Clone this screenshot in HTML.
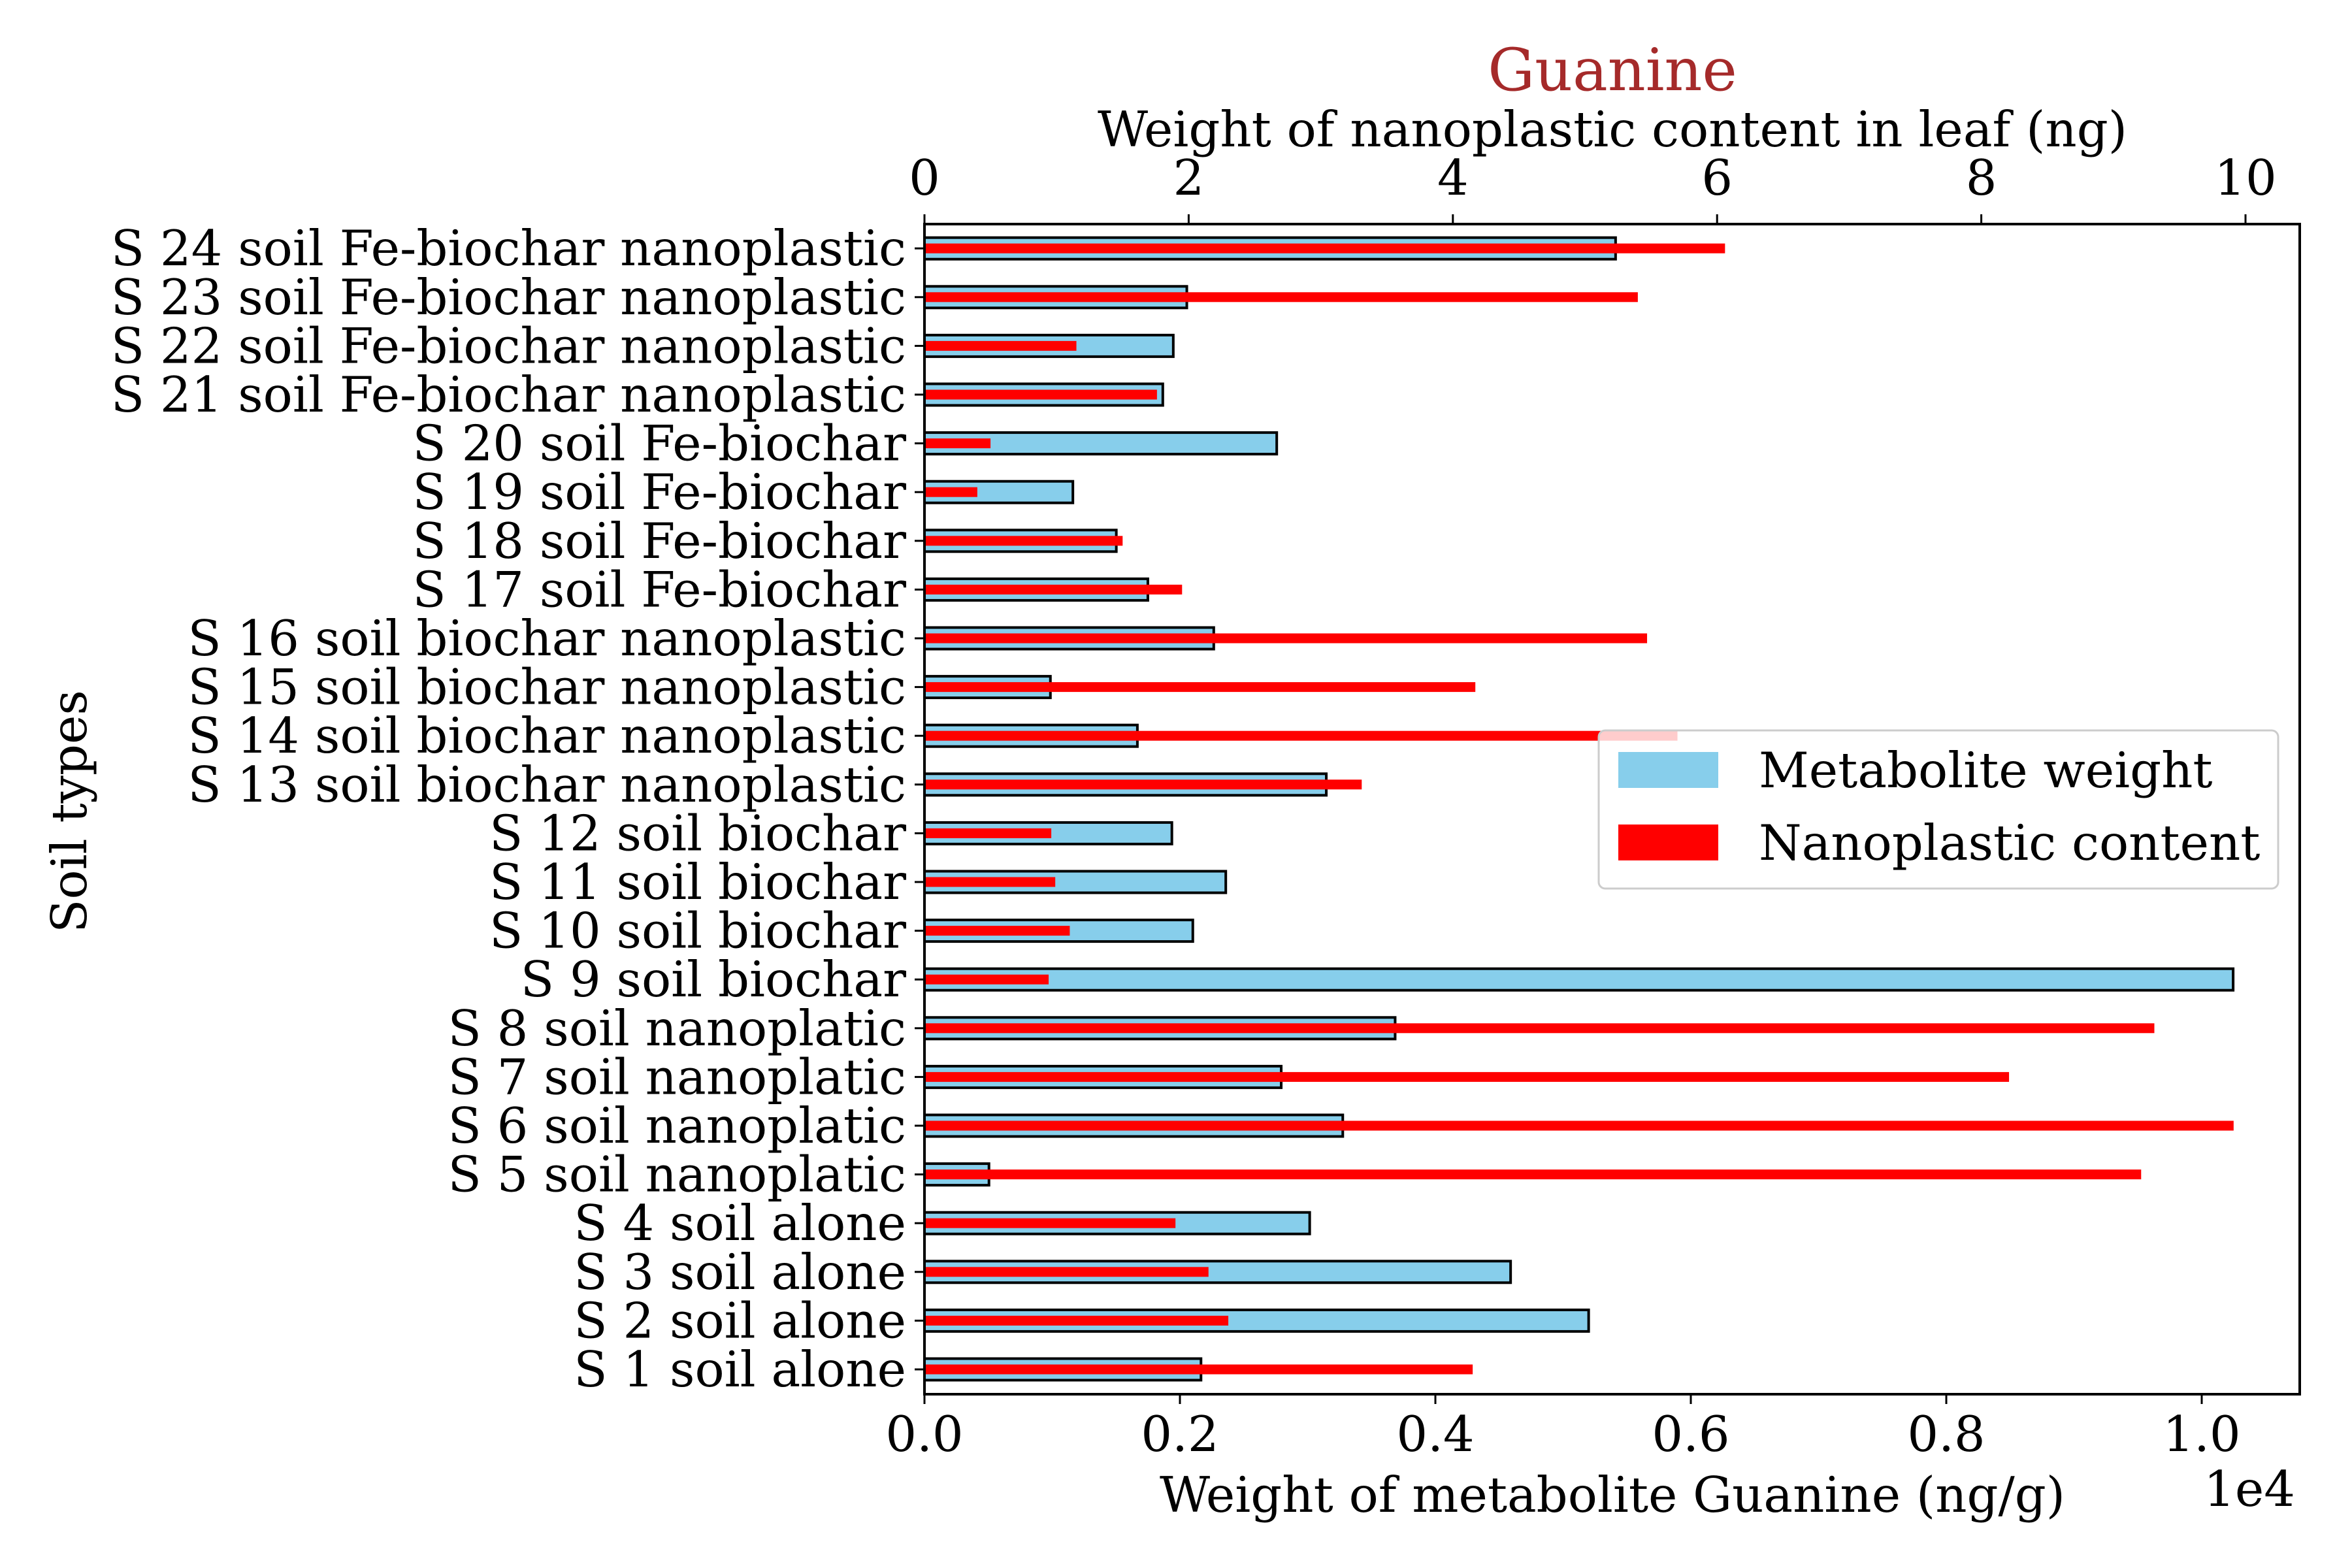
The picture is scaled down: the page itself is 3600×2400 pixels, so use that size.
<!DOCTYPE html>
<html><head><meta charset="utf-8"><style>
html,body{margin:0;padding:0;background:#fff}
svg{display:block;font-family:"DejaVu Serif","Liberation Serif",serif}
</style></head><body>
<svg id="chart" width="3600" height="2400" viewBox="0 0 3600 2400" xmlns="http://www.w3.org/2000/svg">
<rect width="3600" height="2400" fill="#fff"/>
<g id="bars"></g>
<g id="axes"></g>
</svg>
<script>
const categories = ["S 1 soil alone","S 2 soil alone","S 3 soil alone","S 4 soil alone","S 5 soil nanoplatic","S 6 soil nanoplatic","S 7 soil nanoplatic","S 8 soil nanoplatic","S 9 soil biochar","S 10 soil biochar","S 11 soil biochar","S 12 soil biochar","S 13 soil biochar nanoplastic","S 14 soil biochar nanoplastic","S 15 soil biochar nanoplastic","S 16 soil biochar nanoplastic","S 17 soil Fe-biochar","S 18 soil Fe-biochar","S 19 soil Fe-biochar","S 20 soil Fe-biochar","S 21 soil Fe-biochar nanoplastic","S 22 soil Fe-biochar nanoplastic","S 23 soil Fe-biochar nanoplastic","S 24 soil Fe-biochar nanoplastic"];
const metaboliteWeight = [2165,5200,4589,3016,505,3275,2793,3685,10246,2101,2359,1937,3146,1667,986,2265,1749,1502,1162,2758,1866,1948,2054,5411];
const nanoplasticContent = [4.15,2.30,2.15,1.90,9.21,9.91,8.21,9.31,0.94,1.10,0.99,0.96,3.31,5.70,4.17,5.47,1.95,1.50,0.40,0.50,1.76,1.15,5.40,6.06];
const bottomTicks = [0,2000,4000,6000,8000,10000];
const bottomTickLabels = ["0.0","0.2","0.4","0.6","0.8","1.0"];
const topTicks = [0,2,4,6,8,10];
const topTickLabels = ["0","2","4","6","8","10"];

const NS="http://www.w3.org/2000/svg";
const L=1415,R=3520,T=343,B=2134;
const xB=v=>L+v*0.1955;
const xT=v=>L+v*202.2;
const yC=i=>2096-i*74.6;
function mk(tag,attrs,parent,text){const e=document.createElementNS(NS,tag);for(const k in attrs)e.setAttribute(k,attrs[k]);if(text!==undefined)e.textContent=text;parent.appendChild(e);return e;}
const bars=document.getElementById('bars'), axes=document.getElementById('axes');
categories.forEach((c,i)=>{
  const y=yC(i);
  const b=mk('rect',{x:L,y:y-16.5,width:xB(metaboliteWeight[i])-L,height:33,fill:'#87ceeb',stroke:'#000','stroke-width':4},bars);
  
  
});
categories.forEach((c,i)=>{
  const y=yC(i);
  const r=mk('rect',{x:L,y:y-7.5,width:xT(nanoplasticContent[i])-L,height:15,fill:'#ff0000'},bars);
  
  
});
const fr=mk('rect',{x:L,y:T,width:R-L,height:B-T,fill:'none',stroke:'#000','stroke-width':4},axes);


categories.forEach((c,i)=>{
  const y=yC(i);
  mk('line',{x1:L-15,x2:L,y1:y,y2:y,stroke:'#000','stroke-width':3},axes);
  const t=mk('text',{x:L-28,y:y+26,'text-anchor':'end','font-size':75},axes,c);
  
  
});
bottomTicks.forEach((v,i)=>{
  const x=xB(v);
  mk('line',{x1:x,x2:x,y1:B,y2:B+15,stroke:'#000','stroke-width':3},axes);
  const t=mk('text',{x:x,y:2221,'text-anchor':'middle','font-size':75},axes,bottomTickLabels[i]);
  
  
});
topTicks.forEach((v,i)=>{
  const x=xT(v);
  mk('line',{x1:x,x2:x,y1:T-15,y2:T,stroke:'#000','stroke-width':3},axes);
  const t=mk('text',{x:x,y:298,'text-anchor':'middle','font-size':75},axes,topTickLabels[i]);
  
  
});
</script>
<svg style="position:absolute;left:0;top:0" width="3600" height="2400" xmlns="http://www.w3.org/2000/svg" font-family="DejaVu Serif, Liberation Serif, serif">
<text x="2468" y="138" text-anchor="middle" font-size="90" fill="#a52a2a">Guanine</text>
<text x="2468" y="224" text-anchor="middle" font-size="75">Weight of nanoplastic content in leaf (ng)</text>
<text x="2468" y="2314" text-anchor="middle" font-size="75">Weight of metabolite Guanine (ng/g)</text>
<text x="3513" y="2305" text-anchor="end" font-size="75">1e4</text>
<text transform="translate(132,1242) rotate(-90)" text-anchor="middle" font-size="75">Soil types</text>
<g>
<rect x="2447" y="1118" width="1040" height="242" rx="10" fill="#fff" fill-opacity="0.8" stroke="#ccc" stroke-width="3"/>
<rect x="2477" y="1151" width="153" height="55" fill="#87ceeb"/>
<text x="2692" y="1205" font-size="75">Metabolite weight</text>
<rect x="2477" y="1262" width="153" height="55" fill="#ff0000"/>
<text x="2692" y="1316" font-size="75">Nanoplastic content</text>
</g>
</svg>
</body></html>
